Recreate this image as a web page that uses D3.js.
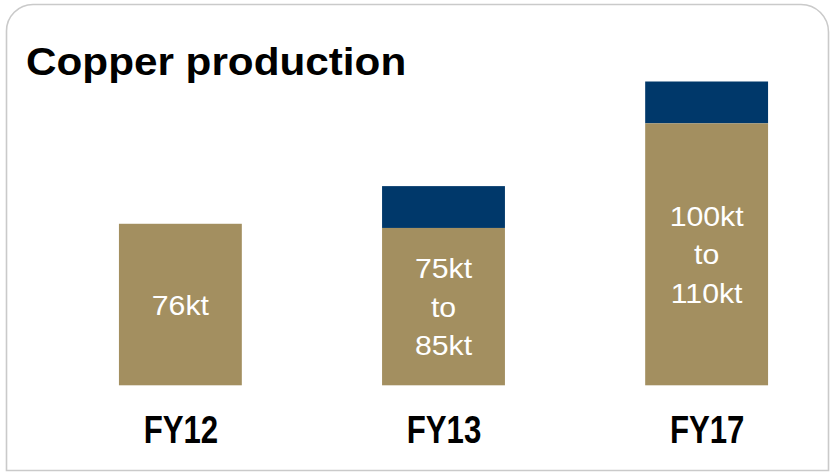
<!DOCTYPE html>
<html>
<head>
<meta charset="utf-8">
<script src="https://cdn.jsdelivr.net/npm/d3@7"></script>
<style>
  html, body { margin: 0; padding: 0; background: #ffffff; }
  svg { display: block; }
</style>
</head>
<body>
<svg id="chart" width="830" height="472"></svg>
<script>
// Copper production: achieved FY12 and guidance ranges for FY13 and FY17 (kt)
const categories = ["FY12", "FY13", "FY17"];
const lowValues  = [76, 75, 100];   // base of each bar (kt)
const highValues = [76, 85, 110];   // top of guidance range (kt)
const valueLabels = [["76kt"], ["75kt", "to", "85kt"], ["100kt", "to", "110kt"]];
const titleText = "Copper production";

const W = 830, H = 472;
const TAN = "#a38f60", NAVY = "#00386a";
const FONT = "'Liberation Sans', Arial, sans-serif";

const svg = d3.select("#chart");

// Card frame with rounded top corners
svg.append("path")
  .attr("d", "M6.5,470.5 V31 A26.5,26.5 0 0 1 33,4.5 H801 A27.5,27.5 0 0 1 828.5,32 V470.5 Z")
  .attr("fill", "#ffffff")
  .attr("stroke", "#cacaca")
  .attr("stroke-width", 1.6);

// Title
svg.append("text")
  .attr("transform", "translate(26,75) scale(1.07,1)")
  .attr("font-family", FONT)
  .attr("font-weight", "bold")
  .attr("font-size", 39.5)
  .attr("fill", "#000000")
  .text(titleText);

const x = d3.scaleBand()
  .domain(categories)
  .range([40, 847])
  .paddingInner(0.533)
  .paddingOuter(0.3);

// Value axis (not drawn) — bars rise from a non-zero floor
const y = d3.scaleLinear()
  .domain([37.4, 110])
  .range([385.3, 81.5]);

const rows = categories.map((c, i) => ({
  cat: c, low: lowValues[i], high: highValues[i], lines: valueLabels[i]
}));

const g = svg.append("g");

// Upper guidance segment
g.selectAll("rect.range")
  .data(rows.filter(d => d.high > d.low))
  .join("rect")
  .attr("class", "range")
  .attr("x", d => x(d.cat))
  .attr("width", x.bandwidth())
  .attr("y", d => y(d.high))
  .attr("height", d => y(d.low) - y(d.high))
  .attr("fill", NAVY);

// Base segment
g.selectAll("rect.base")
  .data(rows)
  .join("rect")
  .attr("class", "base")
  .attr("x", d => x(d.cat))
  .attr("width", x.bandwidth())
  .attr("y", d => y(d.low))
  .attr("height", d => y.range()[0] - y(d.low))
  .attr("fill", TAN);

// Value labels, centred in the base segment
const lineGap = 38.5;
rows.forEach(d => {
  const cx = x(d.cat) + x.bandwidth() / 2;
  const cy = (y(d.low) + y.range()[0]) / 2;
  const n = d.lines.length;
  d.lines.forEach((t, k) => {
    const yy = cy + (k - (n - 1) / 2) * lineGap + 10;
    svg.append("text")
      .attr("transform", `translate(${cx},${yy}) scale(1.08,1)`)
      .attr("text-anchor", "middle")
      .attr("font-family", FONT)
      .attr("font-size", 28)
      .attr("fill", "#ffffff")
      .text(t);
  });
});

// Category labels
svg.selectAll("text.cat")
  .data(categories)
  .join("text")
  .attr("class", "cat")
  .attr("transform", d => `translate(${x(d) + x.bandwidth() / 2 + 0.5},442.7) scale(0.81,1)`)
  .attr("text-anchor", "middle")
  .attr("font-family", FONT)
  .attr("font-weight", "bold")
  .attr("font-size", 38.5)
  .attr("fill", "#000000")
  .text(d => d);
</script>
</body>
</html>
